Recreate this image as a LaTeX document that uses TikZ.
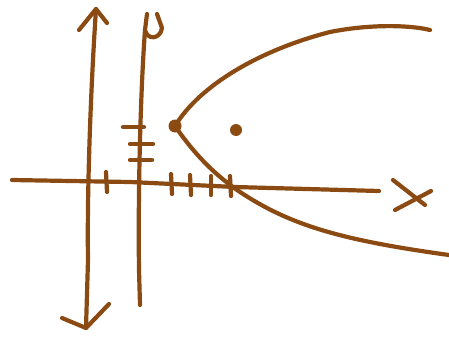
\documentclass[tikz,border=0pt]{standalone}
\definecolor{ink}{HTML}{8A4A12}
\tikzset{pen/.style={draw=ink,line width=4.2pt,line cap=round,line join=round},
  dotstyle/.style={circle,fill=ink,inner sep=0pt,minimum size=13pt}}
\begin{document}
\begin{tikzpicture}[x=1pt,y=-1pt]
\useasboundingbox (0,0) rectangle (449,340);
% directrix with arrows
\coordinate (dtop) at (96,9);
\coordinate (dbot) at (86,328);
\draw[pen] (dtop) .. controls (90,100) and (87,200) .. (88,260) -- (dbot);
\draw[pen] (79,30) -- (dtop) -- (107,23);
\draw[pen] (62,318) -- (dbot) -- (109,304);
% y axis
\coordinate (ytop) at (145,30);
\coordinate (ybot) at (140,305);
\draw[pen] (ytop) .. controls (140,100) and (138,200) .. (139,270) -- (ybot);
\draw[pen] (147,14) -- (ytop) .. controls (147,40) and (160,40) .. (162,28) -- (157,14);
% x axis
\coordinate (xl) at (12,180);
\coordinate (xr) at (379,191);
\draw[pen] (xl) -- (130,182) -- (235,187) -- (xr);
% X label
\draw[pen] (393,180) -- (425,205);
\draw[pen] (395,210) -- (431,191);
% ticks on y axis
\draw[pen] (123,127) -- (144,127);
\draw[pen] (130,144) -- (153,144);
\draw[pen] (130,160) -- (152,160);
% ticks on x axis
\draw[pen] (106,172) -- (107,192);
\draw[pen] (171,174) -- (172,194);
\draw[pen] (190,175) -- (191,195);
\draw[pen] (211,176) -- (211,195);
\draw[pen] (230,176) -- (231,196);
% parabola
\node[dotstyle] (vertex) at (175,126) {};
\node[dotstyle,minimum size=12pt] (focus) at (236,130) {};
\draw[pen] (vertex.center) .. controls (200,85) and (260,50) .. (330,32) .. controls (370,24) and (410,25) .. (430,30);
\draw[pen] (vertex.center) .. controls (195,155) and (215,175) .. (240,192) .. controls (290,225) and (340,240) .. (449,255);
\end{tikzpicture}
\end{document}
